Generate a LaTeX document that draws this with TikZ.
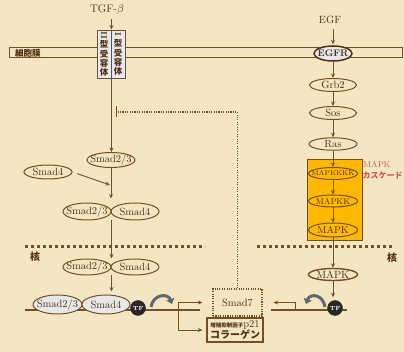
\documentclass[tikz,border=0pt]{standalone}
\usepackage{fontspec}
\usepackage{graphicx}
\newfontfamily\jp{Noto Sans CJK JP}
\usetikzlibrary{arrows.meta,shapes.geometric}
\definecolor{bgc}{RGB}{244,230,194}
\definecolor{lnc}{RGB}{115,80,36}
\definecolor{txc}{RGB}{78,48,18}
\definecolor{orc}{RGB}{255,184,0}
\definecolor{rdc}{RGB}{205,85,75}
\definecolor{gyc}{RGB}{232,232,234}
\definecolor{tfc}{RGB}{40,38,36}
\definecolor{cvc}{RGB}{95,105,110}
\newcommand\ztx[1]{\makebox[0pt]{#1}}
\tikzset{
  el/.style={ellipse, draw=lnc, line width=1pt, inner sep=0pt, text=txc,
    minimum width=48pt, minimum height=15pt, font=\fontsize{10.5}{11}\selectfont},
  ar/.style={draw=lnc, line width=0.9pt, -{Stealth[length=4.5pt,width=4pt]}},
  txt/.style={text=txc, inner sep=0pt, font=\fontsize{10.5}{12}\selectfont},
  jptxt/.style={text=txc, inner sep=0pt, font=\jp\bfseries\fontsize{8.5}{9}\selectfont},
  recbox/.style={rectangle, draw=lnc, line width=0.9pt, fill=gyc, minimum width=14pt,
    minimum height=48pt, inner sep=0pt, align=center, text=txc,
    font=\jp\bfseries\fontsize{8.5}{9.3}\selectfont},
  tfnode/.style={circle, fill=tfc, draw=tfc, minimum size=15pt, inner sep=0pt,
    text=white, font=\bfseries\fontsize{6}{6}\selectfont},
  dna/.style={draw=lnc, line width=2pt},
  nuc/.style={draw=lnc, line width=3pt, dash pattern=on 3pt off 3pt},
  fb/.style={draw=lnc, line width=1.1pt, dash pattern=on 1.1pt off 1.3pt,
    -{Bar[width=11pt, line width=1.3pt]}},
  cv/.style={draw=cvc, line width=3pt, -{Triangle[length=5pt,width=8pt]}},
}
\begin{document}
\begin{tikzpicture}[x=1pt,y=-1pt]
\fill[bgc] (0,0) rectangle (404,352);
\useasboundingbox (0,0) rectangle (404,352);
\clip (0,0) rectangle (404,352);

% membrane
\node[draw=lnc, line width=1pt, minimum width=393pt, minimum height=10pt, inner sep=0pt, anchor=west] (mem) at (9,53) {};
\node[jptxt] (memlbl) at (28,53) {細胞膜};

% nuclear envelope
\draw[nuc] (25,247) -- (205,247);
\draw[nuc] (257,247) -- (392,247);
\node[jptxt, font=\jp\bfseries\fontsize{10}{10}\selectfont] (kaku1) at (35,257) {核};
\node[jptxt, font=\jp\bfseries\fontsize{10}{10}\selectfont] (kaku2) at (392,258) {核};

% TGF-beta pathway
\node[txt, font=\fontsize{11}{12}\selectfont] (tgf) at (107,10) {TGF-$\beta$};
\node[recbox] (r2) at (104,54) {\rotatebox[origin=c]{-90}{\rmfamily\bfseries II}\\型\\受\\容\\体};
\node[recbox] (r1) at (118,54) {\rotatebox[origin=c]{-90}{\rmfamily\bfseries I}\\型\\受\\容\\体};
\draw[ar, shorten <=4pt] (tgf.south -| r2.north east) -- (r2.north east);

\node[el] (s23a) at (111,160) {\ztx{Smad2/3}};
\node[el, minimum height=14pt] (s4a) at (48,172) {\ztx{Smad4}};
\coordinate (j1) at (110,185);
\draw[ar] (r2.south east) -- (r2.south east |- s23a.north);
\draw[ar, shorten <=5pt] (s4a.east) -- (j1);
\node[el, minimum height=17pt] (c1a) at (87,211.5) {\ztx{Smad2/3}};
\node[el, minimum height=17pt] (c1b) at (135,211.5) {\ztx{Smad4}};
\draw[ar, shorten >=4pt] (s23a) -- (s23a |- c1a.north);

\node[el, minimum height=16pt] (c2a) at (87,267) {\ztx{Smad2/3}};
\node[el, minimum height=16pt] (c2b) at (135,267) {\ztx{Smad4}};
\draw[ar] (c1a.east |- c1a.south) -- (c2a.east |- c2a.north);

% left DNA
\draw[dna] (25,310) -- (200,310);
\node[el, fill=gyc, minimum width=49pt, minimum height=19pt] (c3a) at (57.5,304.5) {\ztx{Smad2/3}};
\node[el, fill=gyc, minimum width=48pt, minimum height=19pt] (c3b) at (106,304.5) {\ztx{Smad4}};
\node[tfnode] (tf1) at (138,308) {TF};
\draw[ar, shorten >=3pt] (c2a.east |- c2a.south) -- (c2a.east |- c3b.north);
\draw[cv] (151,307) .. controls (153,294) and (168,293) .. (172,304);

% target genes
\node[rectangle, draw=lnc, line width=1.1pt, dash pattern=on 1.1pt off 1.3pt, minimum width=49pt,
  minimum height=27pt, txt] (smad7) at (237.5,302.5) {Smad7};
\node[rectangle, draw=lnc, line width=1.2pt, minimum width=56pt, minimum height=24pt,
  inner sep=1pt, align=center, text=txc, font=\fontsize{10}{11.5}\selectfont] (gene) at (235,330)
  {{\jp\bfseries\fontsize{5.5}{6}\selectfont 増殖抑制因子}{\fontsize{10.5}{10}\selectfont p21}\\{\jp\bfseries\fontsize{10}{11}\selectfont コラーゲン}};
\coordinate (bl) at (178,310);
\draw[ar, shorten >=10pt] (bl) |- (smad7.west);
\draw[ar, shorten >=4pt] (bl) |- (gene.west);

% Smad7 feedback
\coordinate (inh) at (116,112);
\draw[fb] (smad7.north) |- (inh);

% EGF pathway
\node[txt] (egf) at (330,20) {EGF};
\node[el, fill=gyc, draw=txc, line width=1.5pt, minimum width=38pt, minimum height=15pt,
  font=\bfseries\fontsize{9.5}{11}\selectfont] (egfr) at (333,53.5) {\ztx{EGFR}};
\draw[ar, shorten <=5pt, shorten >=1pt] (egf.south -| egfr.north) -- (egfr.north);
\node[el, minimum width=47pt, minimum height=13pt] (grb2) at (333,85) {\ztx{Grb2}};
\node[el, minimum width=47pt, minimum height=13pt] (sos) at (333,113) {\ztx{Sos}};
\node[el, minimum width=48pt, minimum height=12.5pt] (ras) at (333,144) {\ztx{Ras}};
\node[rectangle, draw=lnc, fill=orc, line width=0.9pt, minimum width=55pt, minimum height=81pt] (casc) at (334.5,199.5) {};
\node[el, fill=orc, minimum width=49pt, minimum height=12pt, font=\fontsize{7}{8}\selectfont] (mk4) at (333,173.5) {\ztx{MAPKKKK}};
\node[el, fill=orc, minimum width=49pt, minimum height=12pt, font=\fontsize{8.5}{9}\selectfont] (mk2) at (333,201) {\ztx{MAPKK}};
\node[el, fill=orc, minimum width=49pt, minimum height=14pt, font=\fontsize{10}{11}\selectfont] (mk1) at (333,230) {\ztx{MAPK}};
\node[el, line width=1.4pt, minimum width=49pt, minimum height=12pt, font=\fontsize{10.5}{11}\selectfont] (mkn) at (333,274.5) {\ztx{MAPK}};
\draw[ar] (egfr) -- (grb2);
\draw[ar] (grb2) -- (sos);
\draw[ar] (sos) -- (ras);
\draw[ar] (ras) -- (mk4);
\draw[ar] (mk4) -- (mk2);
\draw[ar] (mk2) -- (mk1);
\draw[ar] (mk1) -- (mkn);
\node[text=rdc, inner sep=0pt, font=\fontsize{8.5}{9}\selectfont, anchor=west] (casclbl) at (363,164) {MAPK};
\node[text=rdc, inner sep=0pt, font=\jp\bfseries\fontsize{8}{9}\selectfont, anchor=west] (casclbl2) at (362.5,175.5) {カスケード};

% right DNA
\draw[dna] (271,310) -- (347,310);
\node[tfnode] (tf2) at (335,308) {TF};
\draw[ar, shorten >=3pt] (mkn.south) -- (mkn.south |- tf2.north);
\coordinate (br) at (295,310);
\draw[ar, shorten >=11pt] (br) |- (smad7.east);
\draw[cv] (325,307) .. controls (323,294) and (310,293) .. (306,304);
\end{tikzpicture}
\end{document}
